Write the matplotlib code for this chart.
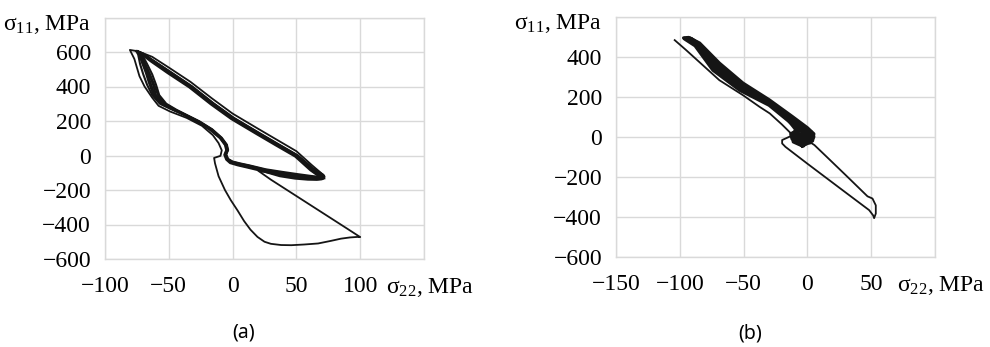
import matplotlib
matplotlib.use('Agg')
import matplotlib.pyplot as plt
import matplotlib.transforms as mtrans

plt.rcParams['font.family'] = ['Liberation Serif', 'DejaVu Serif']
plt.rcParams['mathtext.fontset'] = 'custom'
plt.rcParams['mathtext.rm'] = 'Liberation Serif'
plt.rcParams['mathtext.it'] = 'Liberation Serif:italic'

############################# panel (a) data ##################################
# first loading path: up the top line, down the outer curve, lower loop, back
a_first_x = [71, 62, 50, 35, 20, 0, -16, -33, -50, -63, -74, -80.5,
             -77, -73, -69, -63, -58, -49, -36, -24, -15.5, -11, -8.5, -9.5, -14.5,
             -13.8, -11, -6, -1.5, 4, 9, 14, 19.5, 25, 30, 38, 46, 56, 67, 77, 85,
             92, 98, 100, 90, 70, 50, 30, 20, 38, 59, 72]
a_first_y = [-112, -55, 25, 90, 155, 243, 330, 427, 510, 572, 604, 612,
             560, 460, 400, 335, 288, 255, 218, 172, 118, 72, 30, -2, -14,
             -45, -120, -200, -258, -320, -380, -430, -472, -500, -512, -519, -520,
             -516, -510, -495, -482, -475, -472, -473, -425, -330, -235, -140, -88,
             -113, -132, -133]

# repeated cycles of the main hysteresis loop
a_cyc_x = [
    [-75, -73.5, -71, -68, -65.5, -62, -55, -46, -37, -27, -17, -9.5, -5.5, -4.5, -6,
     -4.5, -1, 5, 12, 25, 38, 50, 60, 67, 71,
     70, 62, 50, 35, 20, 0, -16, -33, -50, -63, -71, -75],
    [-74, -71, -67, -63, -60, -57.5, -52, -44, -36, -26, -16, -8.5, -4.5, -3.5, -5,
     -3.5, 0, 6, 13, 26, 39, 51, 61, 68, 72,
     71, 63, 51, 36, 21, 1, -15, -32, -49, -62, -70, -74],
    [-75.5, -74, -72.5, -70, -67, -63, -57, -47, -38, -28, -18, -10, -6, -5, -6.5,
     -5, -2, 4, 11, 24, 37, 49, 59, 66, 70,
     69, 61, 49, 34, 19, -1, -17, -34, -51, -64, -72, -75.5],
    [-74.5, -72.5, -69.5, -66, -62.5, -60, -53.5, -45, -36.5, -26.5, -16.5, -9, -5, -4, -5.5,
     -4, -0.5, 5.5, 12.5, 25.5, 38.5, 50.5, 60.5, 67.5, 71.5,
     70.5, 62.5, 50.5, 35.5, 20.5, 0.5, -15.5, -32.5, -49.5, -62.5, -70.5, -74.5],
    [-74.8, -73, -70.5, -67, -64, -61, -54, -45.5, -36.8, -26.8, -16.8, -9.2, -5.2, -4.2, -5.8,
     -4.2, -0.8, 5, 12, 25, 38, 50, 60, 67, 71,
     70, 62, 50, 35, 20, 0, -16, -33, -50, -63, -71, -74.8],
    [-74.2, -72, -68.5, -64.8, -61.5, -58.5, -52.5, -44.5, -36.2, -26.2, -16.2, -8.8, -4.8, -3.8, -5.2,
     -3.8, -0.2, 5.8, 12.8, 25.8, 38.8, 50.8, 60.8, 67.8, 71.8,
     70.8, 62.8, 50.8, 35.8, 20.8, 0.8, -15.2, -32.2, -49.2, -62.2, -70.2, -74.2],
]
a_cyc_y = [
    [604, 590, 540, 480, 420, 350, 295, 262, 232, 195, 148, 100, 60, 30, 5,
     -22, -40, -52, -63, -87, -110, -123, -131, -134, -132,
     -122, -80, -2, 62, 127, 215, 300, 398, 482, 548, 590, 604],
    [603, 585, 530, 470, 410, 350, 300, 265, 235, 198, 152, 103, 63, 32, 6,
     -20, -35, -46, -57, -80, -95, -108, -118, -124, -122,
     -112, -74, 1, 65, 130, 218, 303, 402, 486, 550, 590, 603],
    [605, 585, 530, 470, 410, 350, 300, 266, 236, 198, 150, 101, 61, 31, 4,
     -24, -44, -57, -69, -92, -120, -134, -140, -141, -138,
     -128, -86, -6, 58, 123, 211, 296, 395, 478, 545, 590, 605],
    [604, 585, 535, 475, 415, 350, 297, 263, 233, 196, 150, 102, 62, 31, 5,
     -21, -38, -50, -61, -86, -105, -118, -127, -132, -130,
     -120, -78, 0, 63, 128, 216, 301, 400, 484, 549, 590, 604],
    [604, 587, 535, 475, 415, 350, 296, 263, 234, 197, 150, 101, 61, 30, 4,
     -23, -42, -55, -66, -90, -115, -128, -135, -137, -135,
     -125, -83, -4, 60, 125, 213, 298, 396, 480, 546, 590, 604],
    [603, 586, 533, 472, 412, 350, 298, 264, 234, 197, 151, 102, 62, 31, 5,
     -21, -37, -48, -59, -83, -100, -113, -123, -128, -126,
     -116, -76, 0, 64, 129, 217, 302, 401, 485, 549, 590, 603],
]

a_xticks = [-100, -50, 0, 50, 100, 150]
a_xlabels = ['\u2212100', '\u221250', '0', '50', '100', 'σ$_{\\mathrm{22}}$, MPa']
a_yticks = [-600, -400, -200, 0, 200, 400, 600, 800]
a_ylabels = ['\u2212600', '\u2212400', '\u2212200', '0', '200', '400', '600',
             'σ$_{\\mathrm{11}}$, MPa']

############################# panel (b) data ##################################
b_first_x = [-104, -95, -82, -69, -50.5, -37.5, -29.5, -20, -11.5, -16, -19.8, -19.8,
             -17.2, 0, 15, 30, 48.4, 51.5, 52.3, 53.6, 53.6, 51, 47.1, 30, 15, 5.5, 1.6]
b_first_y = [483, 433, 358, 283, 208, 150, 117, 62, 8.5, -5, -16, -33,
             -50, -134, -206, -278, -366, -392, -406, -383, -342, -308, -297, -191, -99, -41, -25]

b_cyc_x = [
    [-3, -9, -10, -8, -15, -30, -53, -74, -88, -96, -97, -93,
     -84.5, -69, -50.5, -30, -12, 0, 5, 4, -3],
    [-2, -7, -8, -6, -14, -30, -52, -73, -87, -94, -95, -92,
     -85, -70, -51, -30, -13, -1, 4, 2, -2],
    [-4, -11, -12, -9, -15, -30, -52, -72, -86, -93, -94, -91,
     -85, -71, -52, -30, -14, -3, 3, 1, -4],
    [-6, -12, -13, -7, -2, 3, 5, 2, -6],
    [-8, -11, -9, -4, 1, 4, 3, -2, -8],
    [-5, -8, -6, -2, 1, 0, -3, -5],
    [-3, -6, -5, -1, 2, 2, -3],
]
b_cyc_y = [
    [-42, -20, 10, 40, 80, 158, 233, 333, 455, 488, 494, 496,
     468, 368, 268, 185, 102, 45, 15, -20, -42],
    [-35, -15, 12, 42, 86, 164, 240, 342, 460, 488, 492, 493,
     465, 360, 260, 178, 96, 42, 12, -18, -35],
    [-45, -25, 8, 35, 84, 170, 248, 350, 462, 487, 490, 491,
     463, 352, 252, 172, 90, 38, 8, -25, -45],
    [-30, -10, 15, 35, 38, 25, 0, -30, -30],
    [-10, 10, 28, 30, 20, 0, -20, -25, -10],
    [-15, 0, 15, 18, 5, -10, -18, -15],
    [-5, 5, 12, 10, 0, -8, -5],
]

b_xticks = [-150, -100, -50, 0, 50, 100]
b_xlabels = ['\u2212150', '\u2212100', '\u221250', '0', '50', 'σ$_{\\mathrm{22}}$, MPa']
b_yticks = [-600, -400, -200, 0, 200, 400, 600]
b_ylabels = ['\u2212600', '\u2212400', '\u2212200', '0', '200', '400',
             'σ$_{\\mathrm{11}}$, MPa']

############################# drawing ##################################
LINE = '#151515'
GRID = '#d9d9d9'

fig = plt.figure(figsize=(9.9, 3.47), dpi=100)
ax_a = fig.add_axes([105 / 990, 1 - 259 / 347, 319 / 990, 241.5 / 347])
ax_b = fig.add_axes([616 / 990, 1 - 257 / 347, 319 / 990, 240.3 / 347])


def style(ax, xt, xl, yt, yl):
    ax.set_xlim(xt[0], xt[-1])
    ax.set_ylim(yt[0], yt[-1])
    ax.set_xticks(xt)
    ax.set_xticklabels(xl)
    ax.set_yticks(yt)
    ax.set_yticklabels(yl)
    ax.grid(True, color=GRID, lw=1.0)
    ax.set_axisbelow(True)
    for s in ax.spines.values():
        s.set_color(GRID)
        s.set_linewidth(1.0)
    ax.tick_params(axis='both', length=0, labelsize=17)
    ax.tick_params(axis='x', pad=12)
    ax.tick_params(axis='y', pad=10)
    # axis titles sit in place of the last tick labels; nudge them a little
    top = ax.get_yticklabels()[-1]
    top.set_transform(top.get_transform() + mtrans.ScaledTranslation(0, -4 / 100, fig.dpi_scale_trans))
    right = ax.get_xticklabels()[-1]
    right.set_transform(right.get_transform() + mtrans.ScaledTranslation(6 / 100, 0, fig.dpi_scale_trans))


style(ax_a, a_xticks, a_xlabels, a_yticks, a_ylabels)
style(ax_b, b_xticks, b_xlabels, b_yticks, b_ylabels)

ax_a.plot(a_first_x, a_first_y, color=LINE, lw=1.3, solid_joinstyle='round')
for cx, cy in zip(a_cyc_x, a_cyc_y):
    ax_a.plot(cx, cy, color=LINE, lw=1.5, solid_joinstyle='round')

ax_b.plot(b_first_x, b_first_y, color=LINE, lw=1.3, solid_joinstyle='round')
for cx, cy in zip(b_cyc_x, b_cyc_y):
    ax_b.plot(cx, cy, color=LINE, lw=2.4, solid_joinstyle='round')

fig.text(243.5 / 990, 1 - 332.5 / 347, '(a)', family='Noto Sans', fontsize=14,
         ha='center', va='center')
fig.text(750 / 990, 1 - 333 / 347, '(b)', family='Noto Sans', fontsize=14,
         ha='center', va='center')

fig.savefig('out.png', dpi=100)
